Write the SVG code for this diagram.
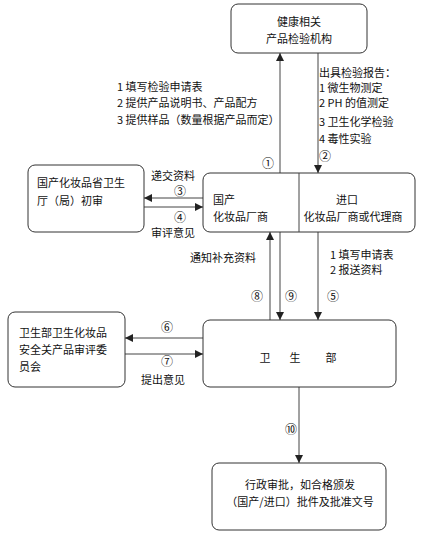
<svg xmlns="http://www.w3.org/2000/svg" width="429" height="540" viewBox="0 0 429 540">
<defs>
<marker id="ah" viewBox="0 0 10 10" refX="10" refY="5" markerWidth="8" markerHeight="8" markerUnits="userSpaceOnUse" orient="auto">
<path d="M0,0 L10,5 L0,10 z" fill="#222"/>
</marker>
<style>
.box{fill:#fff;stroke:#333;stroke-width:1}
.t{font-family:"Noto Sans CJK SC","Liberation Sans",sans-serif;font-size:11px;fill:#111}
.n{font-size:12px}
.c{text-anchor:middle}
.ln{stroke:#444;stroke-width:1;fill:none}
.ar{stroke:#444;stroke-width:1;fill:none;marker-end:url(#ah)}
</style>
</defs>
<rect width="429" height="540" fill="#fff"/>
<g id="connectors">
<line class="ar" x1="280" y1="173" x2="280" y2="53"/>
<line class="ar" x1="318" y1="53" x2="318" y2="173"/>
<line class="ar" x1="203" y1="198" x2="144" y2="198"/>
<line class="ar" x1="144" y1="207" x2="203" y2="207"/>
<line class="ar" x1="270" y1="320" x2="270" y2="232"/>
<line class="ar" x1="280" y1="232" x2="280" y2="320"/>
<line class="ar" x1="318" y1="232" x2="318" y2="320"/>
<line class="ar" x1="203" y1="338" x2="125" y2="338"/>
<line class="ar" x1="125" y1="354" x2="203" y2="354"/>
<line class="ar" x1="299" y1="387" x2="299" y2="463"/>
</g>
<g id="labels">
<text class="t" x="117" y="91">1  填写检验申请表</text>
<text class="t" x="117" y="107">2  提供产品说明书、产品配方</text>
<text class="t" x="117" y="124">3  提供样品（数量根据产品而定）</text>
<text class="t n c" x="268" y="168">①</text>
<text class="t" x="319" y="77">出具检验报告：</text>
<text class="t" x="319" y="92">1  微生物测定</text>
<text class="t" x="319" y="107">2 PH 的值测定</text>
<text class="t" x="319" y="126">3  卫生化学检验</text>
<text class="t" x="319" y="143">4  毒性实验</text>
<text class="t n c" x="325" y="161">②</text>
<text class="t c" x="173" y="180">递交资料</text>
<text class="t n c" x="180" y="196">③</text>
<text class="t n c" x="180" y="222">④</text>
<text class="t c" x="173" y="237">审评意见</text>
<text class="t" x="190" y="262">通知补充资料</text>
<text class="t" x="330" y="259">1  填写申请表</text>
<text class="t" x="330" y="274">2  报送资料</text>
<text class="t n c" x="257" y="301">⑧</text>
<text class="t n c" x="291" y="301">⑨</text>
<text class="t n c" x="333" y="301">⑤</text>
<text class="t n c" x="167" y="332">⑥</text>
<text class="t n c" x="167" y="366">⑦</text>
<text class="t c" x="163" y="384">提出意见</text>
<text class="t n c" x="291" y="434">⑩</text>
</g>
<g id="n-inspect">
<rect class="box" x="231" y="4" width="136" height="49" rx="7"/>
<text class="t c" x="299" y="26">健康相关</text>
<text class="t c" x="299" y="43">产品检验机构</text>
</g>
<g id="n-factory">
<rect class="box" x="203" y="173" width="212" height="59" rx="7"/>
<line class="ln" x1="299" y1="173" x2="299" y2="232"/>
<text class="t" x="213" y="204">国产</text>
<text class="t" x="213" y="221">化妆品厂商</text>
<text class="t c" x="347" y="204">进口</text>
<text class="t c" x="353" y="221">化妆品厂商或代理商</text>
</g>
<g id="n-province">
<rect class="box" x="28" y="165" width="116" height="67" rx="7"/>
<text class="t" x="37" y="187">国产化妆品省卫生</text>
<text class="t" x="37" y="205">厅（局）初审</text>
</g>
<g id="n-committee">
<rect class="box" x="8" y="312" width="117" height="75" rx="7"/>
<text class="t" x="19" y="337">卫生部卫生化妆品</text>
<text class="t" x="19" y="354">安全关产品审评委</text>
<text class="t" x="19" y="371">员会</text>
</g>
<g id="n-ministry">
<rect class="box" x="203" y="320" width="193" height="67" rx="7"/>
<text class="t c" x="265" y="362">卫</text>
<text class="t c" x="295" y="362">生</text>
<text class="t c" x="331" y="362">部</text>
</g>
<g id="n-approval">
<rect class="box" x="212" y="463" width="174" height="67" rx="7"/>
<text class="t c" x="300" y="489">行政审批，如合格颁发</text>
<text class="t c" x="300" y="506">（国产/进口）批件及批准文号</text>
</g>
</svg>
